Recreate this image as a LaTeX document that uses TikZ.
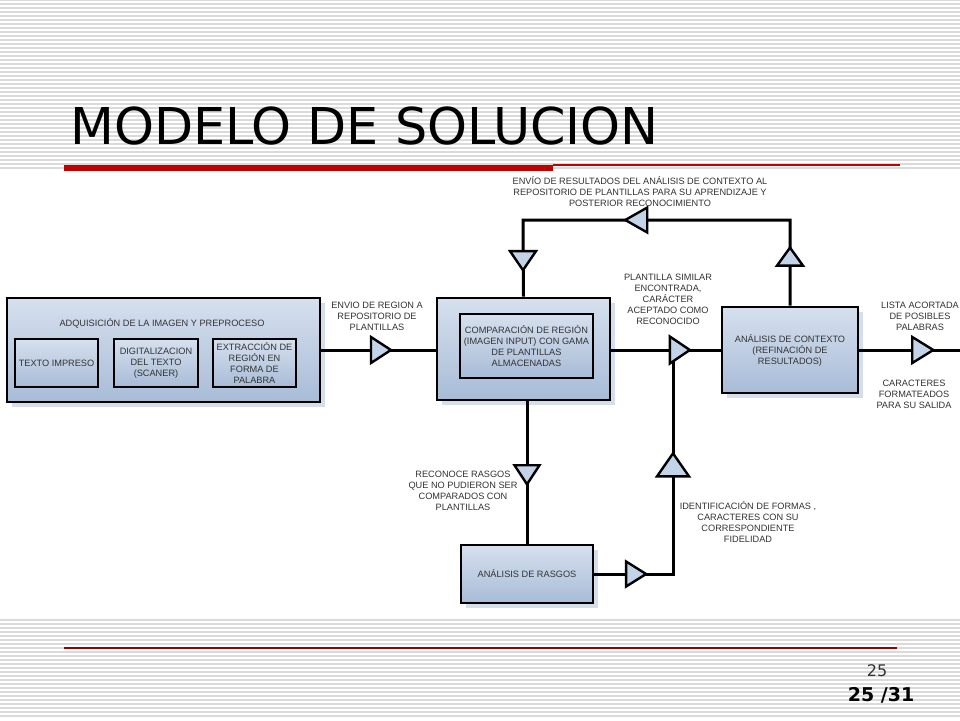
\documentclass[tikz,border=0pt]{standalone}
\usepackage{fontspec}
\setmainfont{Liberation Sans}
\newfontfamily\titlefont{DejaVu Sans}
\usetikzlibrary{shapes.geometric,shadows}
\definecolor{boxtop}{HTML}{D6E0EE}
\definecolor{boxbot}{HTML}{A8BCD7}
\definecolor{shadowblue}{HTML}{D5DFEC}
\definecolor{ampblue}{HTML}{C3D3E8}
\definecolor{lbltext}{HTML}{333333}
\definecolor{stripegray}{HTML}{DADADA}
\definecolor{slidered}{HTML}{C00000}
\newcommand\lblfont{\fontsize{9.2}{11}\selectfont}

\begin{document}
\begin{tikzpicture}[
            x=1pt, y=-1pt,
            wire/.style={line width=3pt},
            blk/.style={draw=black, line width=2.8pt, top color=boxtop, bottom color=boxbot, inner sep=2pt, align=center, font=\lblfont, text=lbltext},
            shd/.style={drop shadow={shadow xshift=5pt, shadow yshift=-5pt, fill=shadowblue, opacity=1}},
            amp/.style={isosceles triangle, isosceles triangle stretches, draw=black, line width=2.4pt, fill=ampblue, inner sep=0pt, minimum height=20pt, minimum width=26pt},
            lbl/.style={align=center, font=\lblfont, text=lbltext},
            stripe/.style={draw=stripegray, line width=1.1pt}
        ]
            \useasboundingbox[fill=white] (0,0) rectangle (960,720);

            % slide background
            \foreach \y in {0,4,...,168} \draw[stripe] (0,\y) -- (960,\y);
            \foreach \y in {620,624,...,716} \draw[stripe] (0,\y) -- (960,\y);
            \fill[slidered] (64,165) rectangle (553,171);
            \draw[slidered, line width=1.4pt] (553,165) -- (900,165);
            \draw[slidered!80!black, line width=1.4pt] (64,648) -- (897,648);

            \node[anchor=base west, inner sep=0pt, font=\titlefont\fontsize{50.8}{56}\selectfont] (title) at (70,144) {MODELO DE SOLUCION};
            \node[anchor=base, inner sep=0pt, font=\titlefont\fontsize{16}{18}\selectfont, text=black!80] (pagenum) at (877,676) {25};
            \node[anchor=base, inner sep=0pt, font=\titlefont\bfseries\fontsize{19}{21}\selectfont] (pagecount) at (881,701) {25 /31};

            % blocks
            \node[blk, shd, minimum width=313pt, minimum height=104pt] (adq) at (163.5,350) {};
            \node[lbl] (adqtitle) at (162,323) {ADQUISICIÓN DE LA IMAGEN Y PREPROCESO};
            \node[blk, minimum width=83pt, minimum height=48pt] (texto) at (56.5,363) {TEXTO IMPRESO};
            \node[blk, minimum width=84pt, minimum height=48pt] (digit) at (156,363) {DIGITALIZACION\\DEL TEXTO\\(SCANER)};
            \node[blk, minimum width=83pt, minimum height=48pt] (extrac) at (254.5,363) {EXTRACCIÓN DE\\REGIÓN EN\\FORMA DE\\PALABRA};

            \node[blk, shd, minimum width=173pt, minimum height=102pt] (comp) at (523.5,349) {};
            \node[blk, minimum width=133pt, minimum height=64pt] (compin) at (526.5,346) {COMPARACIÓN DE REGIÓN\\(IMAGEN INPUT) CON GAMA\\DE PLANTILLAS\\ALMACENADAS};

            \node[blk, shd, minimum width=136pt, minimum height=86pt] (ctx) at (790,350) {ANÁLISIS DE CONTEXTO\\(REFINACIÓN DE\\RESULTADOS)};
            \node[blk, shd, minimum width=132pt, minimum height=58pt] (rasgos) at (527,574) {ANÁLISIS DE RASGOS};

            % connectors
            \coordinate (loopL) at (523,220);
            \coordinate (loopR) at (790,220);
            \coordinate (joinB) at (673,574);
            \coordinate (out) at (960,350);
            \draw[wire] (adq.east) -- (adq.east -| comp.west);
            \draw[wire] (ctx.west -| comp.east) -- (ctx.west);
            \draw[wire] (ctx.east) -- (out);
            \draw[wire] (ctx.north) -- (loopR) -- (loopL) -- (comp.north);
            \draw[wire] (comp.south -| rasgos.north) -- (rasgos.north);
            \draw[wire] (rasgos.east) -- (joinB) -- (joinB |- ctx.west);

            \node[amp] (ampA) at (378,350) {};
            \node[amp, minimum width=27pt] (ampB) at (677,350) {};
            \node[amp, minimum height=21pt] (ampC) at (919.5,350) {};
            \node[amp, rotate=-90, minimum height=19pt] (ampD) at (523,258) {};
            \node[amp, rotate=180, minimum height=22pt, minimum width=25pt] (ampE) at (640,220) {};
            \node[amp, rotate=90, minimum height=18pt] (ampF) at (790,259) {};
            \node[amp, rotate=-90, minimum height=19pt, minimum width=25pt] (ampG) at (527,472) {};
            \node[amp, rotate=90, minimum height=23pt, minimum width=32pt] (ampH) at (673,468) {};
            \node[amp, minimum width=25pt] (ampI) at (633,574) {};

            % labels
            \node[lbl] (envio) at (377,316) {ENVIO DE REGION A\\REPOSITORIO DE\\PLANTILLAS};
            \node[lbl] (envres) at (640,192) {ENVÍO DE RESULTADOS DEL ANÁLISIS DE CONTEXTO AL\\REPOSITORIO DE PLANTILLAS PARA SU APRENDIZAJE Y\\POSTERIOR RECONOCIMIENTO};
            \node[lbl] (similar) at (668,299) {PLANTILLA SIMILAR\\ENCONTRADA,\\CARÁCTER\\ACEPTADO COMO\\RECONOCIDO};
            \node[lbl] (lista) at (920,316) {LISTA ACORTADA\\DE POSIBLES\\PALABRAS};
            \node[lbl] (salida) at (914,394) {CARACTERES\\FORMATEADOS\\PARA SU SALIDA};
            \node[lbl] (reconoce) at (463,491) {RECONOCE RASGOS\\QUE NO PUDIERON SER\\COMPARADOS CON\\PLANTILLAS};
            \node[lbl] (identif) at (748,522) {IDENTIFICACIÓN DE FORMAS ,\\CARACTERES CON SU\\CORRESPONDIENTE\\FIDELIDAD};
        \end{tikzpicture}
\end{document}
